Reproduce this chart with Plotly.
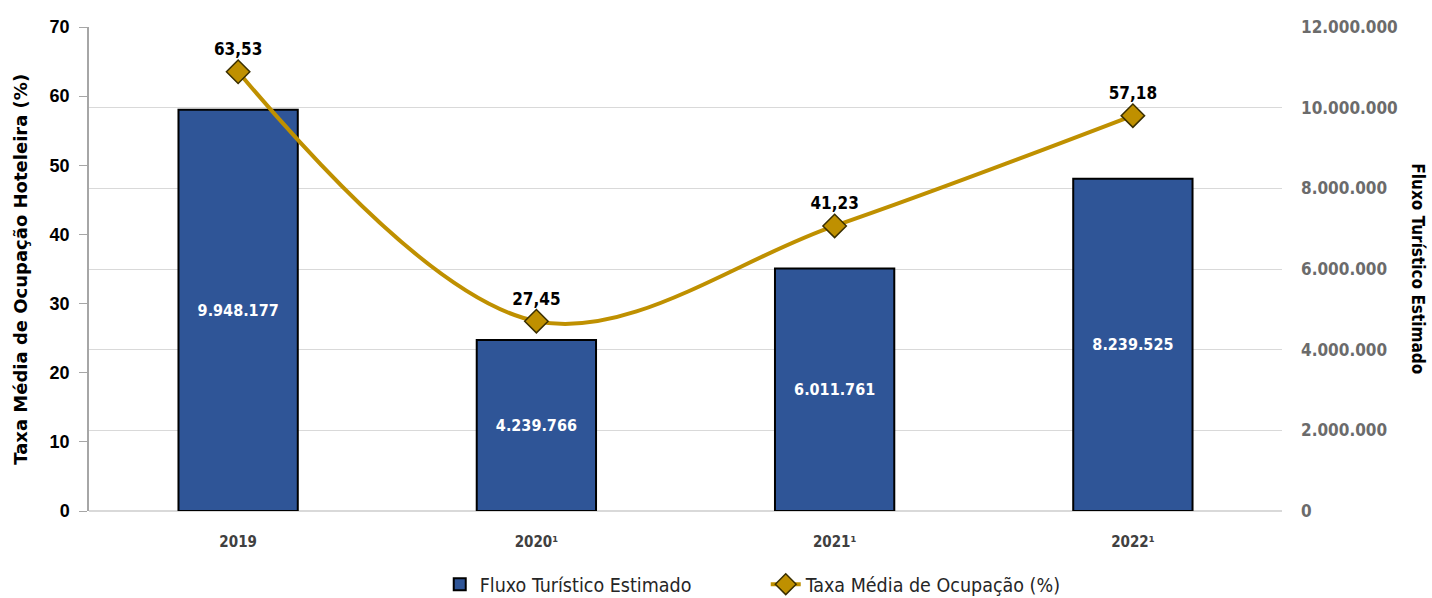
import plotly.graph_objects as go

categories = ["2019", "2020¹", "2021¹", "2022¹"]
fluxo = [9948177, 4239766, 6011761, 8239525]
taxa = [63.53, 27.45, 41.23, 57.18]
right_ticks = [0, 2000000, 4000000, 6000000, 8000000, 10000000, 12000000]
left_ticks = [0, 10, 20, 30, 40, 50, 60, 70]

NARROW = "DejaVu Sans Condensed, Liberation Sans Narrow, Arial"

fig = go.Figure()
fig.add_trace(go.Bar(
    x=categories, y=fluxo, name="Fluxo Turístico Estimado",
    marker=dict(color="#2F5597", line=dict(color="#000000", width=2)),
    texttemplate="%{y:,d}", textposition="inside", insidetextanchor="middle",
    textfont=dict(color="white", size=16, family=NARROW, weight="bold"),
    yaxis="y", width=0.4,
))
fig.add_trace(go.Scatter(
    x=categories, y=taxa, name="Taxa Média de Ocupação (%)",
    mode="lines+markers+text",
    line=dict(color="#BF9000", width=4, shape="spline", smoothing=1.0),
    marker=dict(symbol="diamond", size=18, color="#BF9000", line=dict(color="#3a2f00", width=1.5)),
    texttemplate="%{y:,.2f}", textposition="top center", cliponaxis=False,
    textfont=dict(color="#000000", size=17, family=NARROW, weight="bold"),
    yaxis="y2",
))

fig.update_layout(
    width=1432, height=598,
    margin=dict(l=89, r=150, t=27, b=87, autoexpand=False),
    paper_bgcolor="white", plot_bgcolor="white",
    separators=",.",
    showlegend=True,
    legend=dict(orientation="h", x=0.294, xanchor="left", y=-0.152, yanchor="middle",
                font=dict(family=NARROW, size=19.5, color="#262626"),
                entrywidth=281, traceorder="normal"),
    xaxis=dict(type="category", showgrid=False, showline=False, ticks="", automargin=False,
               tickfont=dict(family=NARROW, size=15, color="#404040", weight="bold"),
               ticklabelstandoff=20),
    yaxis=dict(side="right", range=[0, 12000000], tickvals=right_ticks, tickformat=",d", automargin=False,
               showgrid=True, gridcolor="#D9D9D9", gridwidth=1.2, zeroline=True, zerolinecolor="#D9D9D9",
               zerolinewidth=1.5, showline=False, ticks="",
               tickfont=dict(family=NARROW, size=17, color="#6b6b6b", weight="bold"),
               ticklabelstandoff=18),
    yaxis2=dict(side="left", overlaying="y", range=[0, 70], tickvals=left_ticks, automargin=False,
                showgrid=False, zeroline=False, showline=True, linecolor="#A6A6A6", linewidth=1.5,
                ticks="outside", ticklen=8, tickcolor="#A6A6A6",
                tickfont=dict(family="Liberation Sans, Arial", size=18, color="#000000", weight="bold"),
                ticklabelstandoff=6),
    annotations=[
        dict(text="<b>Taxa Média de Ocupação Hoteleira (%)</b>", xref="paper", yref="paper",
             x=-0.058, y=0.5, xanchor="center", yanchor="middle", textangle=-90, showarrow=False,
             font=dict(family="DejaVu Sans, Arial", size=18, color="#000000")),
        dict(text="<b>Fluxo Turístico Estimado</b>", xref="paper", yref="paper",
             x=1.1137, y=0.5, xanchor="center", yanchor="middle", textangle=90, showarrow=False,
             font=dict(family=NARROW, size=17, color="#000000")),
    ],
)

fig.write_html("out.html", post_script="document.body.style.margin='0';",
               config={"displayModeBar": False})
